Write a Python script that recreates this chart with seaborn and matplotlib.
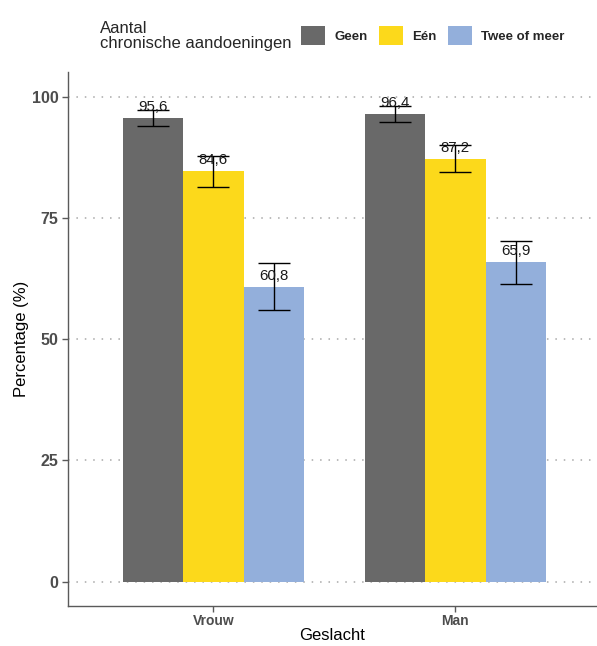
import numpy as np
import pandas as pd
import matplotlib
matplotlib.use('Agg')
import matplotlib.pyplot as plt
from matplotlib.patches import Patch
import seaborn as sns

geslacht = ['Vrouw', 'Man']
groepen = ['Geen', 'Eén', 'Twee of meer']
kleuren = ['#696969', '#FCD91B', '#93AFDB']
# percentages per groep, volgorde Vrouw, Man
geen = [95.6, 96.4]
een = [84.6, 87.2]
twee = [60.8, 65.9]
# betrouwbaarheidsinterval
geen_lo = [93.9, 94.7]
geen_hi = [97.3, 98.1]
een_lo = [81.4, 84.4]
een_hi = [87.8, 90.0]
twee_lo = [56.0, 61.3]
twee_hi = [65.6, 70.3]

df = pd.DataFrame({
    'Geslacht': geslacht * 3,
    'Groep': [g for g in groepen for _ in geslacht],
    'Pct': geen + een + twee,
    'lo': geen_lo + een_lo + twee_lo,
    'hi': geen_hi + een_hi + twee_hi,
})

sns.set_theme(style='white')
plt.rcParams['font.family'] = ['Liberation Sans', 'DejaVu Sans']

fig = plt.figure(figsize=(5.97, 6.46), dpi=100)
ax = fig.add_axes([0.114, 0.062, 0.886, 0.826])

sns.barplot(data=df, x='Geslacht', y='Pct', hue='Groep', order=geslacht,
            hue_order=groepen, palette=kleuren, width=0.75, errorbar=None,
            saturation=1, legend=False, linewidth=0, ax=ax, zorder=2)

bars = [p for p in ax.patches]
# patches come hue by hue, each over the categories
for p, (_, r) in zip(bars, df.iterrows()):
    xc = p.get_x() + p.get_width() / 2
    ax.errorbar(xc, r['Pct'], yerr=[[r['Pct'] - r['lo']], [r['hi'] - r['Pct']]],
                fmt='none', ecolor='black', elinewidth=1, capsize=11.5, capthick=1, zorder=3)
    ax.text(xc, r['Pct'] + 0.8, f"{r['Pct']:.1f}".replace('.', ','), ha='center',
            va='bottom', fontsize=10.8, color='#1a1a1a', zorder=4)

ax.set_ylim(-5, 105)
ax.set_xlim(-0.6, 1.585)
ax.set_yticks([0, 25, 50, 75, 100])
ax.yaxis.grid(True, linestyle=(0, (1, 4.5)), color='#a8a8a8', linewidth=1.1)
ax.set_axisbelow(True)
for s in ['top', 'right']:
    ax.spines[s].set_visible(False)
for s in ['left', 'bottom']:
    ax.spines[s].set_color('#5a5a5a')
    ax.spines[s].set_linewidth(1)
ax.tick_params(axis='both', length=4, width=1, color='#5a5a5a', left=True, bottom=True, pad=3)
ax.tick_params(axis='y', labelsize=11.5, labelcolor='#4d4d4d')
ax.tick_params(axis='x', labelsize=10, labelcolor='#4d4d4d', pad=2)
for t in ax.get_xticklabels() + ax.get_yticklabels():
    t.set_fontweight('bold')
ax.set_xlabel('Geslacht', fontsize=12, color='black', labelpad=0)
ax.set_ylabel('Percentage (%)', fontsize=12, color='black', labelpad=2)

handles = [Patch(facecolor=c, edgecolor='none') for c in kleuren]
fig.text(100 / 597, 1 - 36 / 646, 'Aantal\nchronische aandoeningen', fontsize=12,
         va='center', ha='left', linespacing=1.05)
leg = fig.legend(handles, groepen, loc='center left', bbox_to_anchor=(289 / 597, 1 - 35.5 / 646),
                 ncol=3, frameon=False, handlelength=1.85, handleheight=1.85,
                 handletextpad=0.7, columnspacing=0.83, prop={'size': 9.5, 'weight': 'bold'})

fig.savefig('out.png', dpi=100)
